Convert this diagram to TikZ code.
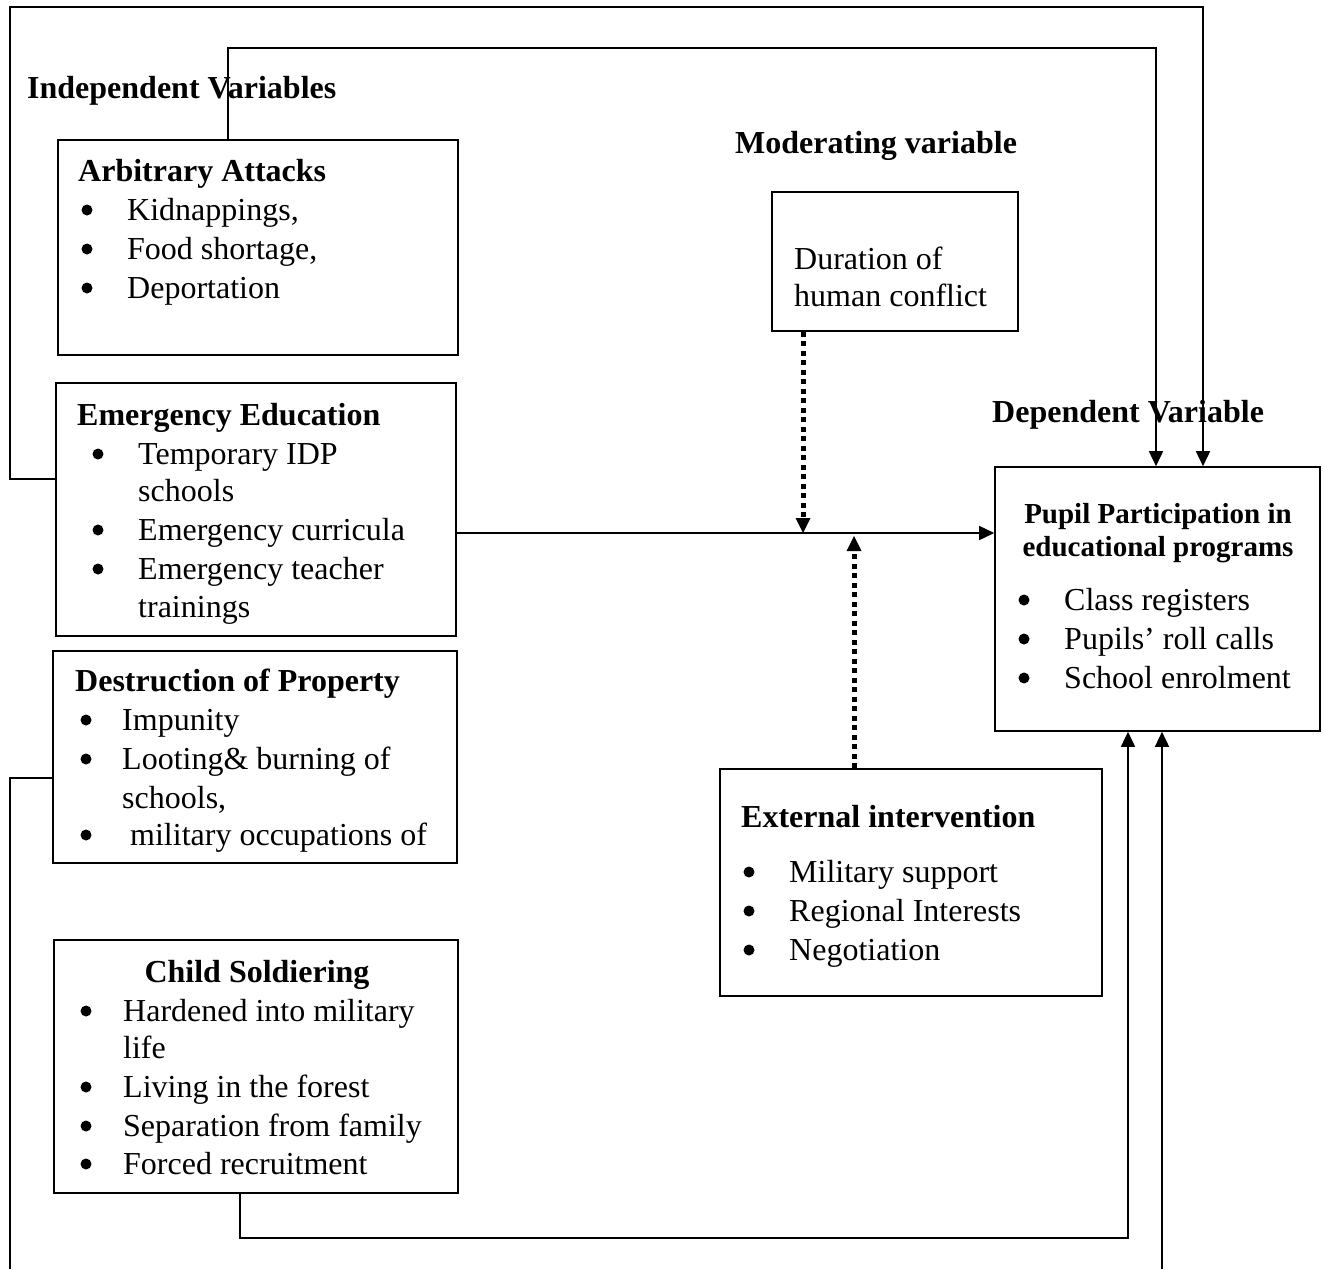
\documentclass[tikz,border=0pt]{standalone}
\usepackage{fontspec}
\setmainfont{Liberation Serif}
\usetikzlibrary{arrows.meta}
\tikzset{
  box/.style={draw, line width=1.6pt, inner sep=0pt},
  txt/.style={anchor=base west, inner sep=0pt, font=\fontsize{32}{39}\selectfont},
  ttl/.style={anchor=base west, inner sep=0pt, font=\fontsize{32}{39}\selectfont\bfseries},
  ptl/.style={anchor=base, inner sep=0pt, font=\fontsize{29}{33}\selectfont\bfseries},
  bdot/.style={circle, fill, inner sep=0pt, minimum size=11pt},
  conn/.style={line width=1.6pt},
  arr/.style={line width=1.6pt, -{Triangle[length=15pt,width=14pt]}},
  dots/.style={line width=5pt, dash pattern=on 5pt off 4.5pt, -{Triangle[length=15pt,width=15pt,line width=0pt]}},
}
\newcommand{\bitem}[5]{%
  \node[bdot] (#1b) at (#2+4,#4-10) {};
  \node[txt] (#1) at (#3,#4) {#5};}
\begin{document}
\begin{tikzpicture}[x=1pt,y=-1pt]
\useasboundingbox (0,0) rectangle (1324,1269);
% boxes
\node[box, minimum width=400, minimum height=215] (arb) at (258,247.5) {};
\node[box, minimum width=400, minimum height=253] (emg) at (256,509.5) {};
\node[box, minimum width=404, minimum height=212] (des) at (255,757) {};
\node[box, minimum width=404, minimum height=253] (chi) at (256,1066.5) {};
\node[box, minimum width=246, minimum height=139] (dur) at (895,261.5) {};
\node[box, minimum width=382, minimum height=227] (ext) at (911,882.5) {};
\node[box, minimum width=325, minimum height=264] (pup) at (1157.5,599) {};
% headings
\node[ttl] (hind) at (27,98) {Independent Variables};
\node[ttl] (hmod) at (735,153) {Moderating variable};
\node[ttl] (hdep) at (992,422) {Dependent Variable};
% Arbitrary attacks
\node[ttl] (arbt) at (78,181) {Arbitrary Attacks};
\bitem{a1}{83}{127}{220}{Kidnappings,}
\bitem{a2}{83}{127}{259}{Food shortage,}
\bitem{a3}{83}{127}{298}{Deportation}
% Emergency education
\node[ttl] (emgt) at (77,425) {Emergency Education};
\bitem{e1}{94}{138}{464}{Temporary IDP}
\node[txt] (e1x) at (138,501) {schools};
\bitem{e2}{94}{138}{540}{Emergency curricula}
\bitem{e3}{94}{138}{579}{Emergency teacher}
\node[txt] (e3x) at (138,617) {trainings};
% Destruction
\node[ttl] (dest) at (75,691) {Destruction of Property};
\bitem{d1}{82}{122}{730}{Impunity}
\bitem{d2}{82}{122}{769}{Looting\& burning of}
\node[txt] (d2x) at (122,808) {schools,};
\bitem{d3}{82}{122}{845}{\ military occupations of}
% Child soldiering
\node[ttl, anchor=base] (chit) at (257,982) {Child Soldiering};
\bitem{c1}{82}{123}{1021}{Hardened into military}
\node[txt] (c1x) at (123,1058) {life};
\bitem{c2}{82}{123}{1097}{Living in the forest}
\bitem{c3}{82}{123}{1136}{Separation from family}
\bitem{c4}{82}{123}{1174}{Forced recruitment}
% Duration
\node[txt] (du1) at (794,269) {Duration of};
\node[txt] (du2) at (794,306) {human conflict};
% External
\node[ttl] (extt) at (741,827) {External intervention};
\bitem{x1}{745}{789}{882}{Military support}
\bitem{x2}{745}{789}{921}{Regional Interests}
\bitem{x3}{745}{789}{960}{Negotiation}
% Pupil
\node[ptl] (pt1) at (1158,523) {Pupil Participation in};
\node[ptl] (pt2) at (1158,556) {educational programs};
\bitem{p1}{1020}{1064}{610}{Class registers}
\bitem{p2}{1020}{1064}{649}{Pupils’ roll calls}
\bitem{p3}{1020}{1064}{688}{School enrolment}
% coordinates
\coordinate (m) at (803,533);
\coordinate (m2) at (854,536);
\coordinate (t1) at (228,48);
\coordinate (t2) at (1156,48);
\coordinate (o1) at (10,479);
\coordinate (o2) at (10,7);
\coordinate (o3) at (1203,7);
\coordinate (b1) at (240,1238);
\coordinate (b2) at (1128,1238);
\coordinate (b3) at (1162,1269);
\coordinate (l1) at (10,778);
\coordinate (l2) at (10,1269);
% connectors
\draw[arr] (emg.east |- m) -- (pup.west |- m);
\draw[dots] (dur.south -| m) -- (m);
\draw[dots] (ext.north -| m2) -- (m2);
\draw[arr] (arb.north -| t1) -- (t1) -- (t2) -- (t2 |- pup.north);
\draw[arr] (emg.west |- o1) -- (o1) -- (o2) -- (o3) -- (o3 |- pup.north);
\draw[arr] (chi.south -| b1) -- (b1) -- (b2) -- (b2 |- pup.south);
\draw[arr] (b3) -- (b3 |- pup.south);
\draw[conn] (des.west |- l1) -- (l1) -- (l2);
\end{tikzpicture}
\end{document}
